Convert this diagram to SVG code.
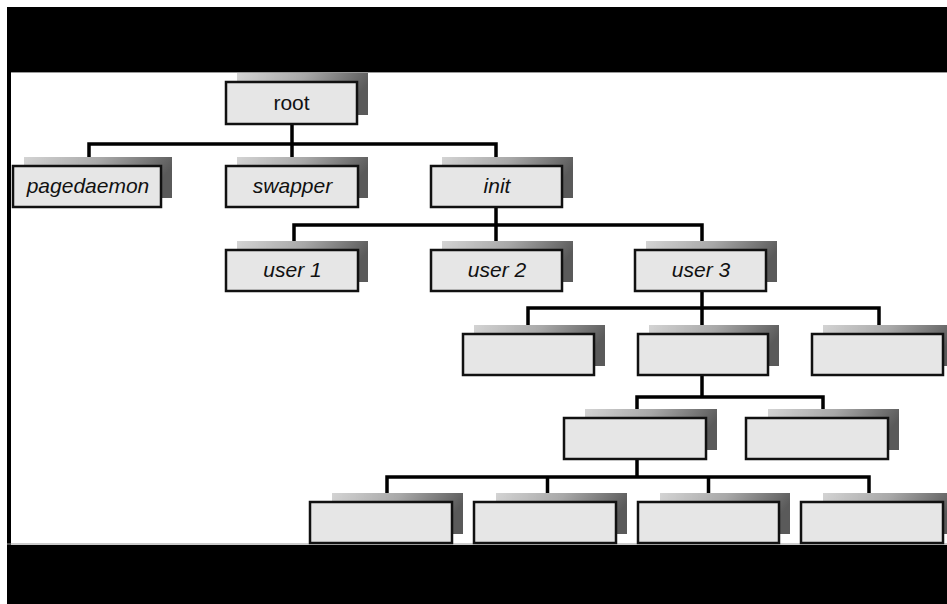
<svg xmlns="http://www.w3.org/2000/svg" width="947" height="604" viewBox="0 0 947 604">
<defs>
<linearGradient id="sh" x1="0" y1="0" x2="1" y2="0.25">
<stop offset="0" stop-color="#d4d4d4"/>
<stop offset="0.5" stop-color="#a8a8a8"/>
<stop offset="1" stop-color="#5a5a5a"/>
</linearGradient>
<style>
.bx{fill:#e6e6e6;stroke:#111;stroke-width:2.5}
.sd{fill:url(#sh)}
.lb{font-family:"Liberation Sans",Arial,sans-serif;font-size:21px;font-style:italic;fill:#111;text-anchor:middle}
.cn{fill:none;stroke:#000;stroke-width:3.5}
</style>
</defs>
<rect x="0" y="0" width="947" height="604" fill="#fff"/>
<rect x="7" y="7" width="940" height="65" fill="#000"/>
<line x1="7" y1="72.5" x2="947" y2="72.5" stroke="#999" stroke-width="1"/>
<rect x="7" y="72" width="4" height="473" fill="#000"/>
<line x1="7" y1="544" x2="947" y2="544" stroke="#999" stroke-width="1"/>
<rect x="7" y="545" width="940" height="59" fill="#000"/>

<g id="connectors" class="cn">
<path d="M292 124V166M89 166V144H496V166"/>
<path d="M496 207V250M294 250V225H702V250"/>
<path d="M702 291V334M528 334V308H879V334"/>
<path d="M702 375V397M637 418V397H823V418"/>
<path d="M637 459V477M387 502V477H869V502M547.5 477V502M708.5 477V502"/>
</g>

<g id="root"><rect class="sd" x="237" y="73" width="131" height="42"/><rect class="bx" x="226" y="82" width="131" height="42"/><text class="lb" x="291.5" y="110" style="font-style:normal">root</text></g>
<g id="pagedaemon"><rect class="sd" x="24" y="157" width="148" height="41"/><rect class="bx" x="13" y="166" width="148" height="41"/><text class="lb" x="88" y="193">pagedaemon</text></g>
<g id="swapper"><rect class="sd" x="237" y="157" width="131" height="41"/><rect class="bx" x="226" y="166" width="132" height="41"/><text class="lb" x="292.5" y="193">swapper</text></g>
<g id="init"><rect class="sd" x="442" y="157" width="131" height="41"/><rect class="bx" x="431" y="166" width="131" height="41"/><text class="lb" x="497" y="193">init</text></g>
<g id="user1"><rect class="sd" x="237" y="241" width="131" height="41"/><rect class="bx" x="226" y="250" width="132" height="41"/><text class="lb" x="292.5" y="277">user 1</text></g>
<g id="user2"><rect class="sd" x="442" y="241" width="131" height="41"/><rect class="bx" x="431" y="250" width="131" height="41"/><text class="lb" x="497" y="277">user 2</text></g>
<g id="user3"><rect class="sd" x="646" y="241" width="131" height="41"/><rect class="bx" x="635" y="250" width="131" height="41"/><text class="lb" x="701" y="277">user 3</text></g>
<g id="n4a"><rect class="sd" x="474" y="325" width="131" height="41"/><rect class="bx" x="463" y="334" width="131" height="41"/></g>
<g id="n4b"><rect class="sd" x="649" y="325" width="130" height="41"/><rect class="bx" x="638" y="334" width="130" height="41"/></g>
<g id="n4c"><rect class="sd" x="823" y="325" width="131" height="41"/><rect class="bx" x="812" y="334" width="131" height="41"/></g>
<g id="n5a"><rect class="sd" x="585" y="409" width="132" height="41"/><rect class="bx" x="564" y="418" width="142" height="41"/></g>
<g id="n5b"><rect class="sd" x="768" y="409" width="131" height="41"/><rect class="bx" x="746" y="418" width="142" height="41"/></g>
<g id="n6a"><rect class="sd" x="332" y="493" width="131" height="41"/><rect class="bx" x="310" y="502" width="142" height="41"/></g>
<g id="n6b"><rect class="sd" x="496" y="493" width="131" height="41"/><rect class="bx" x="474" y="502" width="142" height="41"/></g>
<g id="n6c"><rect class="sd" x="660" y="493" width="130" height="41"/><rect class="bx" x="638" y="502" width="141" height="41"/></g>
<g id="n6d"><rect class="sd" x="823" y="493" width="131" height="41"/><rect class="bx" x="801" y="502" width="142" height="41"/></g>
</svg>
